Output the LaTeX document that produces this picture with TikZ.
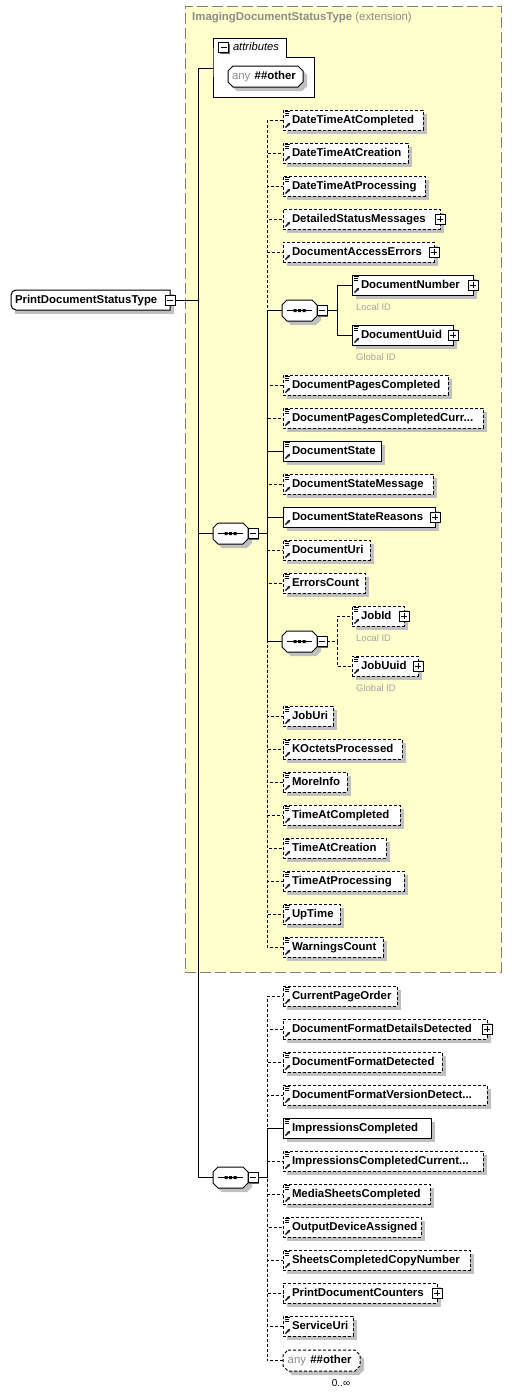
\documentclass[tikz,border=0pt]{standalone}
\usepackage{fontspec}
\setmainfont{Liberation Sans}
\usetikzlibrary{shadows,arrows.meta}
\definecolor{extfill}{RGB}{255,255,204}
\definecolor{extline}{RGB}{128,128,128}
\definecolor{shd}{RGB}{192,192,192}
\definecolor{gtx}{RGB}{140,140,140}
\definecolor{idtx}{RGB}{165,165,165}
\tikzset{
  lw/.style={line width=1pt},
  elbox/.style={draw=black, line width=1pt, fill=white, inner sep=0pt, outer sep=0pt,
    minimum height=20pt, anchor=west, text height=8.5pt, text depth=2.5pt,
    font=\fontsize{11.4}{13}\selectfont\bfseries,
    general shadow={fill=shd, shadow xshift=4pt, shadow yshift=-4pt}},
  req/.style={elbox},
  opt/.style={elbox, dash pattern=on 3pt off 2pt},
  con/.style={line width=1pt, draw=black},
  ocon/.style={con, dash pattern=on 3pt off 2pt},
  pmbox/.style={draw=black, line width=1pt, fill=white, minimum size=10pt, inner sep=0pt, outer sep=0pt,
    general shadow={fill=black!60, shadow xshift=1pt, shadow yshift=-1pt}},
  cbox/.style={inner sep=0pt, outer sep=0pt, minimum width=35pt, minimum height=21pt, anchor=west},
  idlbl/.style={anchor=west, inner sep=0pt, text=idtx, font=\fontsize{9.5}{11}\selectfont},
  anytxt/.style={inner sep=0pt, outer sep=0pt, minimum height=21pt, anchor=west, text height=8.5pt,
    text depth=2.5pt, font=\fontsize{11.4}{13}\selectfont},
}
\newcommand\el[6]{\node[#1] (#2) at (#3,-#4) {\makebox[#5pt][l]{\hspace*{9pt}#6}};}
\newcommand\docico[1]{\draw[line width=1pt] ([shift={(2pt,-1.7pt)}]#1.north west) -- ++(5pt,0)
  ([shift={(2pt,-3.7pt)}]#1.north west) -- ++(4pt,0) ([shift={(2pt,-5.7pt)}]#1.north west) -- ++(4pt,0);}
\newcommand\refico[1]{\draw[line width=1.2pt, -{Stealth[length=3.2pt,width=3.4pt]}] ([shift={(2.5pt,2.5pt)}]#1.south west) -- ++(4.5pt,4.5pt);}
\newcommand\plusb[2]{\node[pmbox] (#1) at (#2.east) {};
  \draw[line width=1pt] ([xshift=2pt]#1.west) -- ([xshift=-2pt]#1.east) ([yshift=2pt]#1.south) -- ([yshift=-2pt]#1.north);}
\newcommand\minusb[3]{\node[pmbox,#3] (#1) at (#2) {};
  \draw[line width=1pt] ([xshift=2pt]#1.west) -- ([xshift=-2pt]#1.east);}
\newcommand\octo[6]{%
  \fill[shd] ({#1+4},{-(#2)-4}) ++(#5,0) -- ++({#3-2*#5},0) -- ++(#5,-#5) -- ++(0,{-(#4-2*#5)}) -- ++(-#5,-#5) -- ++({-(#3-2*#5)},0) -- ++(-#5,#5) -- ++(0,{#4-2*#5}) -- cycle;
  \draw[line width=1pt, fill=white, #6] (#1,-#2) ++(#5,0) -- ++({#3-2*#5},0) -- ++(#5,-#5) -- ++(0,{-(#4-2*#5)}) -- ++(-#5,-#5) -- ++({-(#3-2*#5)},0) -- ++(-#5,#5) -- ++(0,{#4-2*#5}) -- cycle;}
\newcommand\seqc[4]{%
  \octo{#2}{#3}{35}{21}{5}{}
  \node[cbox] (#1) at (#2,{-(#3)-10.5}) {};
  \draw[line width=1pt] ([xshift=5pt]#1.west) -- ([xshift=-5pt]#1.east);
  \fill ([shift={(-6pt,-1.5pt)}]#1.center) rectangle ++(3pt,3pt)
        ([shift={(-1.5pt,-1.5pt)}]#1.center) rectangle ++(3pt,3pt)
        ([shift={(3pt,-1.5pt)}]#1.center) rectangle ++(3pt,3pt);
  \minusb{#4}{#1.east}{anchor=west}}
\newcommand\anyel[6]{%
  \octo{#2}{#3}{#4}{21}{5}{#5}
  \node[anytxt] (#1) at (#2,{-(#3)-10.5}) {\makebox[#4pt][l]{\hspace*{#6pt}\textcolor{gtx}{any}\hspace{4.3pt}\textbf{\#\#other}}};}
\begin{document}
\begin{tikzpicture}[x=1pt,y=1pt]
\fill[white] (0,0) rectangle (512,-1395);
\useasboundingbox (0,0) rectangle (512,-1395);
% extension box
\node[draw=extline, line width=1pt, fill=extfill, dash pattern=on 11pt off 4pt, inner sep=0pt, outer sep=0pt,
  minimum width=316pt, minimum height=966pt, anchor=north west] (ext) at (185,-6) {};
\node[anchor=west, inner sep=0pt, text=gtx, font=\fontsize{11.4}{13}\selectfont] (title) at (192,-18)
  {\textbf{ImagingDocumentStatusType} (extension)};
% root
\node[fill=white, inner sep=0pt, outer sep=0pt, minimum height=20pt, anchor=west, text height=8.5pt, text depth=2.5pt,
  font=\fontsize{11.4}{13}\selectfont\bfseries, general shadow={fill=shd, shadow xshift=4pt, shadow yshift=-4pt}]
  (root) at (11,-300) {\makebox[159pt][l]{\hspace*{4pt}PrintDocumentStatusType}};
\draw[lw] (root.north east) -- ([xshift=5pt]root.north west) arc[start angle=90, end angle=180, radius=5pt]
  -- ([yshift=5pt]root.south west) arc[start angle=180, end angle=270, radius=5pt] -- (root.south east) -- cycle;
\minusb{rootm}{root.east}{}
% attributes
\node[fill=white, inner sep=0pt, outer sep=0pt, minimum width=101pt, minimum height=40pt, anchor=north west] (attrB) at (213,-57) {};
\node[fill=white, inner sep=0pt, outer sep=0pt, minimum width=73pt, minimum height=19pt, anchor=south west,
  text height=8.5pt, text depth=2.5pt, font=\fontsize{11.2}{13}\selectfont\itshape] (attrT) at (213,-57)
  {\makebox[73pt][l]{\hspace*{20pt}attributes}};
\draw[lw] (attrT.south west) -- (attrT.north west) -- (attrT.north east) -- (attrT.south east)
  -- (attrB.north east) -- (attrB.south east) -- (attrB.south west) -- cycle;
\minusb{attrM}{223.5,-47.5}{}
\anyel{any1}{228}{66}{75}{}{4}
% compositors
\seqc{s1}{213}{523}{s1m}
\seqc{ss1}{282}{300}{ss1m}
\seqc{ss2}{282}{631}{ss2m}
\seqc{s3}{213}{1167}{s3m}
\coordinate (rt) at (198,-300);
\coordinate (t1) at (267,-533.5);
\coordinate (t1a) at (337,-310.5);
\coordinate (t1b) at (337,-641.5);
\coordinate (t3) at (267,-1177.5);
% seq1 elements
\el{opt}{dtc}{283}{120}{140}{DateTimeAtCompleted}
\el{opt}{dtcr}{283}{153}{125}{DateTimeAtCreation}
\el{opt}{dtp}{283}{186}{142}{DateTimeAtProcessing}
\el{opt}{dsm}{283}{219}{157}{DetailedStatusMessages}
\el{opt}{dae}{283}{252}{151}{DocumentAccessErrors}
\el{req}{dn}{352}{285}{121}{DocumentNumber}
\el{req}{du}{352}{335}{101}{DocumentUuid}
\el{opt}{dpc}{283}{385}{165}{DocumentPagesCompleted}
\el{opt}{dpcc}{283}{418}{200}{DocumentPagesCompletedCurr...}
\el{req}{ds}{283}{451}{98}{DocumentState}
\el{opt}{dsmg}{283}{484}{150}{DocumentStateMessage}
\el{req}{dsr}{283}{517}{152}{DocumentStateReasons}
\el{opt}{duri}{283}{550}{87}{DocumentUri}
\el{opt}{ec}{283}{583}{82}{ErrorsCount}
\el{opt}{jid}{352}{616}{52}{JobId}
\el{opt}{juu}{352}{666}{66}{JobUuid}
\el{opt}{juri}{283}{716}{50}{JobUri}
\el{opt}{kop}{283}{749}{119}{KOctetsProcessed}
\el{opt}{mi}{283}{782}{64}{MoreInfo}
\el{opt}{tac}{283}{815}{117}{TimeAtCompleted}
\el{opt}{tacr}{283}{848}{103}{TimeAtCreation}
\el{opt}{tap}{283}{881}{121}{TimeAtProcessing}
\el{opt}{ut}{283}{914}{57}{UpTime}
\el{opt}{wc}{283}{947}{100}{WarningsCount}
\node[idlbl] (dnl) at (356,-307) {Local ID};
\node[idlbl] (dul) at (356,-357) {Global ID};
\node[idlbl] (jidl) at (356,-638) {Local ID};
\node[idlbl] (juul) at (356,-688) {Global ID};
% seq3 elements
\el{opt}{cpo}{283}{996}{114}{CurrentPageOrder}
\el{opt}{dfdd}{283}{1029}{204}{DocumentFormatDetailsDetected}
\el{opt}{dfd}{283}{1062}{159}{DocumentFormatDetected}
\el{opt}{dfvd}{283}{1095}{204}{DocumentFormatVersionDetect...}
\el{req}{ic}{283}{1128}{148}{ImpressionsCompleted}
\el{opt}{icc}{283}{1161}{200}{ImpressionsCompletedCurrent...}
\el{opt}{msc}{283}{1194}{147}{MediaSheetsCompleted}
\el{opt}{oda}{283}{1227}{138}{OutputDeviceAssigned}
\el{opt}{sccn}{283}{1260}{187}{SheetsCompletedCopyNumber}
\el{opt}{pdc}{283}{1293}{154}{PrintDocumentCounters}
\el{opt}{su}{283}{1326}{70}{ServiceUri}
\anyel{any2}{283}{1350}{77}{dash pattern=on 3pt off 2pt}{4.7}
\node[inner sep=0pt, font=\fontsize{10}{12}\selectfont] (occ) at (341,-1383) {0..∞};
% icons
\foreach \n in {dtc,dtcr,dtp,dn,du,dpc,dpcc,ds,dsmg,duri,ec,jid,juu,juri,kop,mi,tac,tacr,tap,ut,wc,
  cpo,dfd,dfvd,ic,icc,msc,oda,sccn,su} {\docico{\n}}
\foreach \n in {dtc,dtcr,dtp,dsm,dae,dn,du,dpc,dpcc,ds,dsmg,dsr,duri,ec,jid,juu,juri,kop,mi,tac,tacr,tap,ut,wc,
  cpo,dfdd,dfd,dfvd,ic,icc,msc,oda,sccn,pdc,su} {\refico{\n}}
\plusb{dsmP}{dsm}
\plusb{daeP}{dae}
\plusb{dnP}{dn}
\plusb{duP}{du}
\plusb{dsrP}{dsr}
\plusb{jidP}{jid}
\plusb{juuP}{juu}
\plusb{dfddP}{dfdd}
\plusb{pdcP}{pdc}
% connectors
\draw[con] (rootm.east) -- (rt);
\draw[con] (rt) |- ([yshift=-11pt]attrB.north west);
\draw[con] (rt) |- (s1.west);
\draw[con] (rt) |- (s3.west);
\foreach \c in {dtc,dtcr,dtp,dsm,dae,dpc,dpcc,dsmg,duri,ec,juri,kop,mi,tac,tacr,tap,ut,wc}
  {\draw[ocon] (s1m.east) -- (t1) |- (\c.west);}
\foreach \c in {ss1,ds,dsr,ss2}
  {\draw[con] (s1m.east) -- (t1) |- (\c.west);}
\foreach \c in {dn,du} {\draw[con] (ss1m.east) -- (t1a) |- (\c.west);}
\foreach \c in {jid,juu} {\draw[ocon] (ss2m.east) -- (t1b) |- (\c.west);}
\foreach \c in {cpo,dfdd,dfd,dfvd,icc,msc,oda,sccn,pdc,su,any2}
  {\draw[ocon] (s3m.east) -- (t3) |- (\c.west);}
\draw[con] (s3m.east) -- (t3) |- (ic.west);
\end{tikzpicture}
\end{document}
